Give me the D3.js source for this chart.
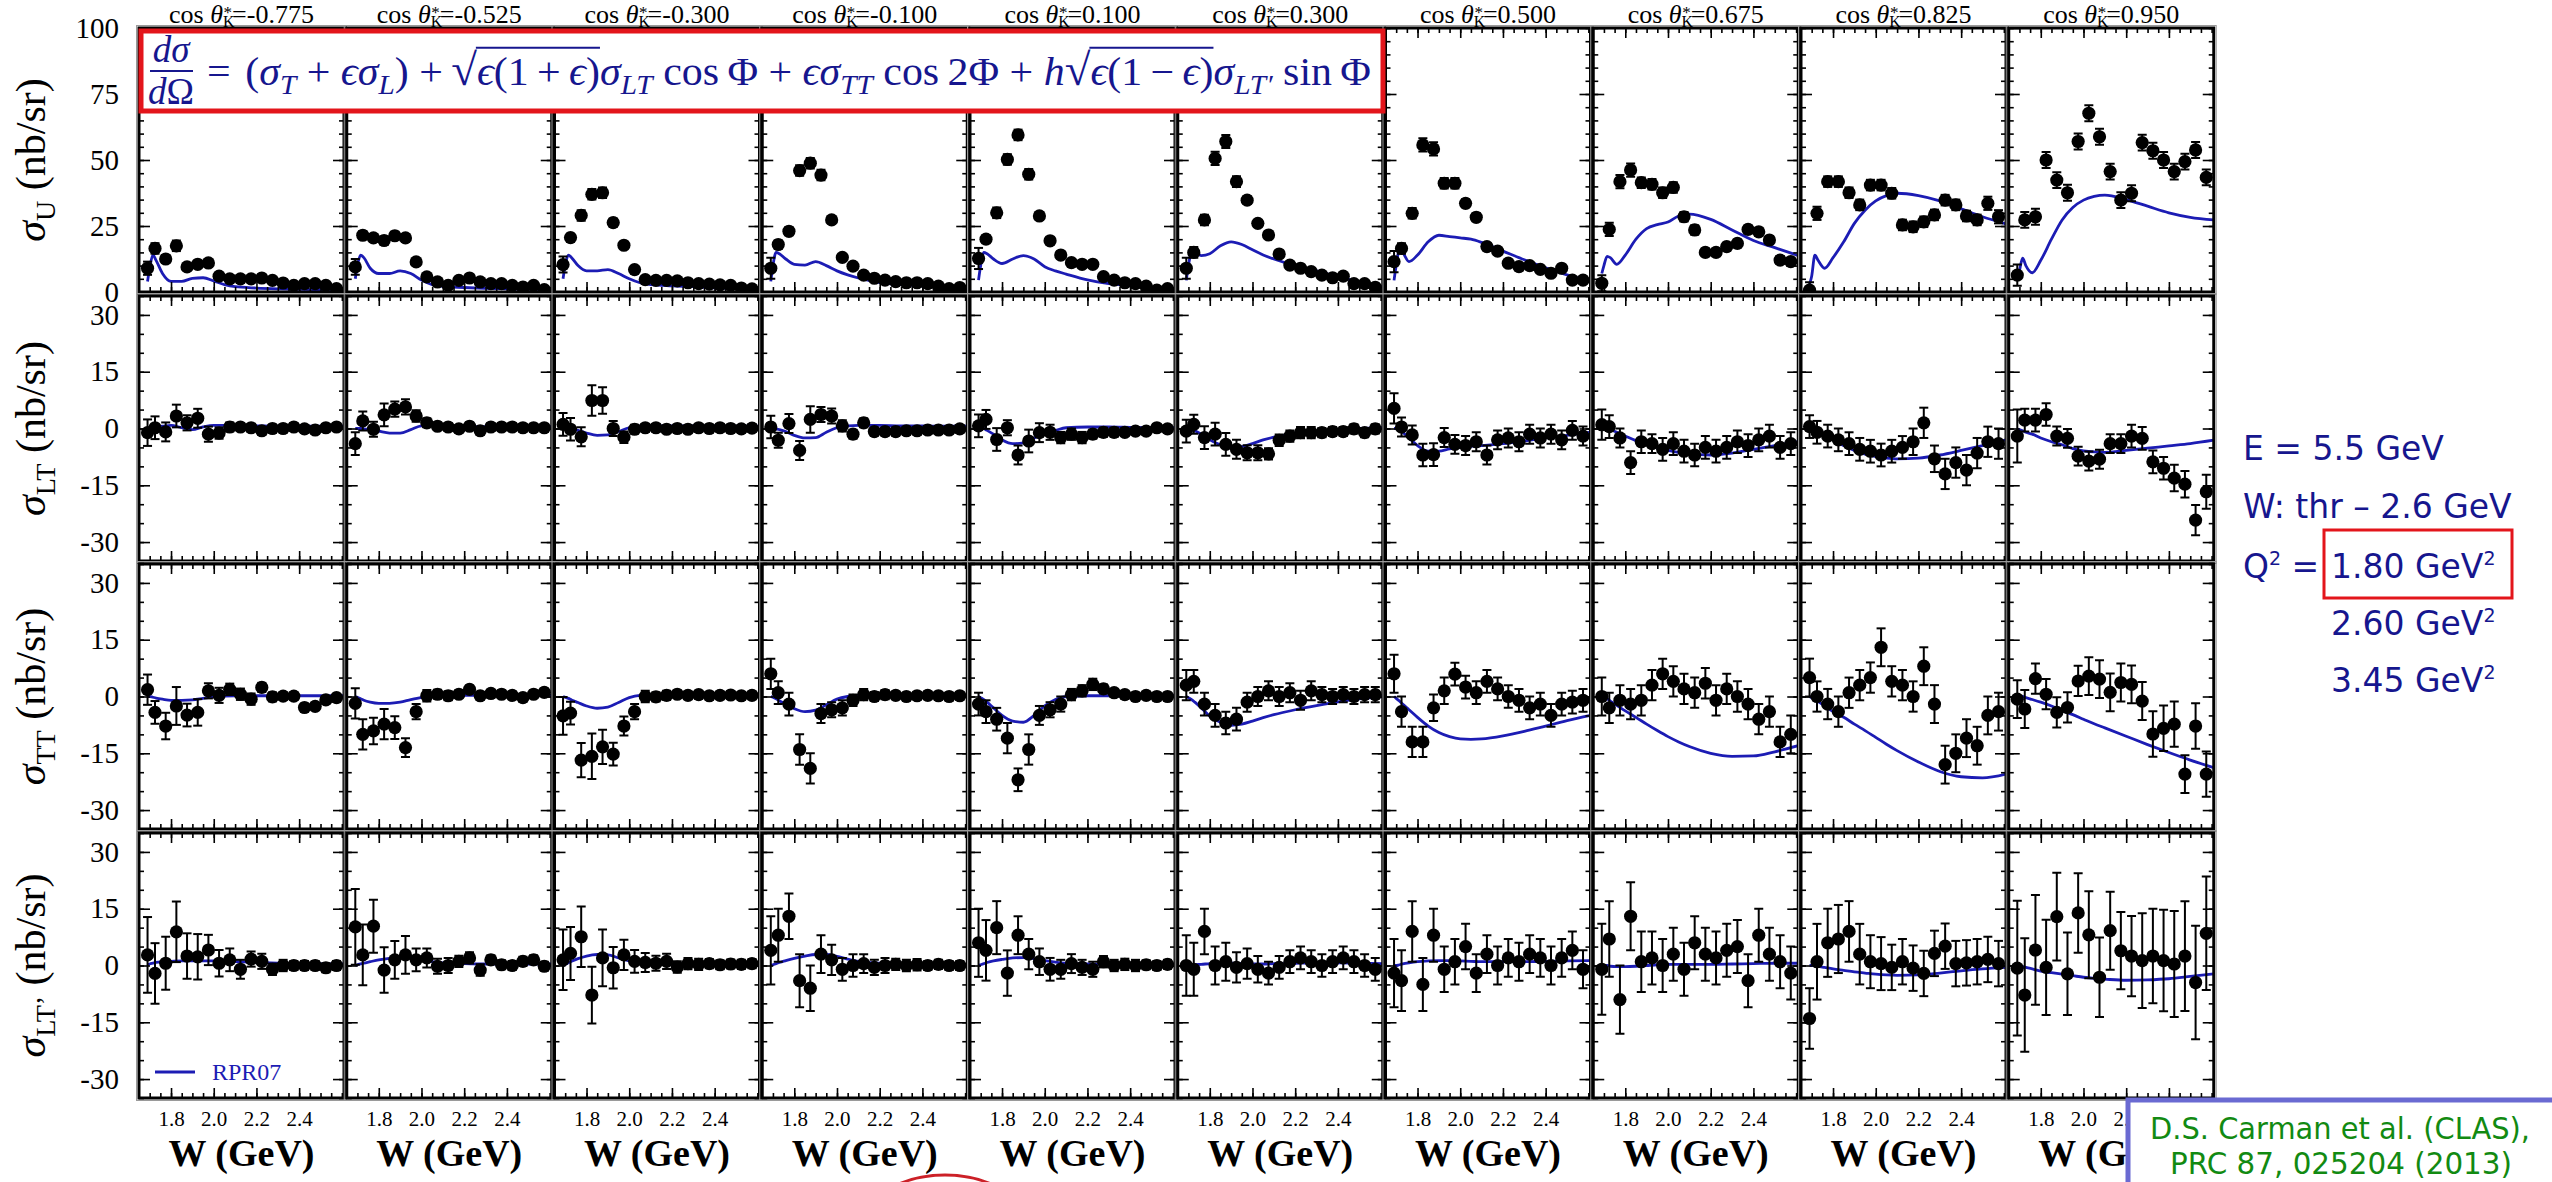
<!DOCTYPE html>
<html><head><meta charset="utf-8">
<script src="https://cdn.jsdelivr.net/npm/d3@7"></script>
<style>body{margin:0;background:#fff;} svg{display:block;}</style>
</head><body>
<svg id="c" width="2552" height="1182"></svg>
<script>
// ---------- data ----------
const cosTheta = ["-0.775","-0.525","-0.300","-0.100","0.100","0.300","0.500","0.675","0.825","0.950"];
const W = [1.69,1.725,1.775,1.825,1.875,1.925,1.975,2.025,2.075,2.125,2.175,2.225,2.275,2.325,2.375,2.425,2.475,2.525,2.575];
const CW = [1.69,1.70,1.715,1.73,1.76,1.80,1.85,1.90,1.95,2.00,2.05,2.10,2.20,2.30,2.40,2.50,2.61];
const xTicks = [1.8,2.0,2.2,2.4];
const yTicksU = [0,25,50,75,100];
const yTicksS = [-30,-15,0,15,30];

const sU_val = [
 [9,16.5,12.5,17.5,9.5,10.5,11,6,5,5,5,5.3,4.4,3.4,2.5,3.2,3.2,2.5,1.3],
 [9.5,21.5,20.5,19.5,21.3,20.5,11.4,5.7,3.8,2.5,4.4,5.3,3.8,3.2,3.2,2.5,1.9,2.5,0.9],
 [10.4,20.6,29,37,37.6,26.3,17.7,8.5,4.7,4.4,4.4,4.2,3.5,3.2,3,2.7,2.5,1.5,1.2],
 [9,18,23,46,48.8,44.3,27.3,13.1,9.8,6.4,5.2,4.5,3.9,3.5,3.5,3.2,2.2,1.3,1.7],
 [12.7,20,30,50.2,59.5,44.6,28.8,19.4,14,11.1,10.5,10.5,5.8,4.5,3.5,3.2,2.2,0.7,1.3],
 [9,15,27.3,50.6,57,41.8,34.8,26,21.6,14.4,10.2,9,7.7,6.4,5.4,6,3.2,3.2,1.8],
 [11.5,16.5,29.8,55.7,54.2,41.2,41.2,33.6,28.3,17.2,15.5,10.9,9.6,10,8.6,7.1,9,4.5,4.5],
 [3.3,23.7,41.8,46.2,41.4,40.8,37.6,39.6,28.5,23.5,15,15,17.2,18.4,23.7,22.8,19.7,12.1,11.5],
 [0.7,29.8,41.8,41.8,37.6,33,40.5,40.5,37.4,25.4,24.7,26.6,29.2,34.8,33,28.8,27.3,33.6,28.5],
 [6.4,27.3,28.5,50,42.4,37.6,57,67.7,58.8,45.6,34.8,37.4,56.6,53.5,50,45.6,49.4,53.8,43.4]
];
const sU_err = [
 [2.5,2,1.5,2,1.2,1,1,0.8,0.7,0.7,0.6,0.6,0.6,0.5,0.5,0.5,0.5,0.5,0.5],
 [3,1.5,1.5,1.5,1.5,1.5,1,0.8,0.6,0.6,0.6,0.6,0.5,0.5,0.5,0.5,0.5,0.5,0.5],
 [3,1.5,2,2,2,1.5,1.2,1,0.7,0.6,0.6,0.6,0.5,0.5,0.5,0.5,0.5,0.5,0.5],
 [4,1.5,1.5,2,2,2,1.2,1,0.8,0.7,0.6,0.6,0.6,0.5,0.5,0.5,0.5,0.5,0.5],
 [4,1.5,2,2,2,2,1.5,1.2,1,0.8,0.7,0.7,0.6,0.6,0.5,0.5,0.5,0.5,0.5],
 [4,2,2,2.5,2.5,2,1.5,1.3,1.2,1,0.8,0.7,0.7,0.6,0.6,0.6,0.5,0.5,0.5],
 [4,2,2,2.5,2.5,2,2,1.5,1.5,1.2,1.2,1,1,1,0.8,0.8,0.8,0.8,0.8],
 [3,2.5,2.5,2.5,2,2,2,2,1.8,1.8,1.5,1.5,1.5,1.5,1.5,1.5,1.5,1.5,1.5],
 [3,2.5,2,2,2,2,2,2,2,2,2,2,2,2,2,2,2,2.5,2.5],
 [4,3,3,3,3,3,3,3,3,3,3,3,3,3,3,3,3,3,3]
];
const sU_fit = [
 [4,9,14,12,7,4,4,5.2,5.4,4.2,2.8,2,1.5,1.2,1,0.9,0.8],
 [5,10,14,13,9,7,7,8,7,4.5,2.8,2.1,1.7,1.4,1.2,1,0.9],
 [5,10,14,13,10,8,8,8.5,7,5,3.5,2.8,2.3,2,1.6,1.3,1],
 [4,10,15,14.5,12.5,10.5,10.2,11.5,10,8,6.5,5.3,3.6,2.8,2.2,1.8,1.4],
 [4.5,10,15,14.5,12.5,10.8,12.5,13.8,12.5,9.6,8,6.8,4.6,3.2,2.4,1.8,1.2],
 [4.4,10,15,15,13.8,14.5,17.5,19,18,16,14,12.5,10,8,5.8,3.8,1.8],
 [4.4,10,16,15,11.5,14,19,21.5,21,20.5,20,18.8,15.5,12.2,9.2,6.5,4.2],
 [7,10,13.5,13,10.5,14,20,24,25.5,26.5,28.8,29.5,27.5,23.5,19.5,16.8,13.8],
 [3,6,14,12,9,13,19,26,31,34.5,36.5,37.4,36.5,34.5,31.5,28.5,25.8],
 [4.4,8,12.8,10,7.3,12,20,27.3,32,34.8,36.2,36.7,35,32.5,30,28.3,27.3]
];

const sLT_val = [
 [-1.1,0.2,-0.9,3.3,1.5,2.7,-1.5,-1.2,0.4,0.4,0.2,-0.6,0,0,0.4,-0.1,-0.4,0.2,0.4],
 [-4,2,-0.2,3.6,5.1,5.7,3.3,1.5,0.6,0.4,-0.1,0.6,-0.6,0.4,0.4,0.4,0.2,0.2,0.2],
 [1.1,-0.2,-2.2,7.4,7.4,0,-2.3,-0.2,0.2,0.2,-0.2,0,-0.2,0.2,0,0.2,0,-0.1,0.1],
 [0.4,-3.1,1.3,-5.8,2.4,3.7,3.3,0.7,-1.5,1.5,-0.8,-0.8,-0.8,-0.6,-0.6,-0.4,-0.4,-0.4,-0.1],
 [0.7,2.4,-2.9,0.2,-7,-3.3,-1.1,-1,-2.4,-1.5,-2.4,-1.5,-1,-1,-1,-0.7,-0.7,0.2,-0.1],
 [-0.7,1.1,-2.4,-1.5,-4.2,-5.5,-6.4,-6.4,-6.7,-3.1,-2,-1.1,-1.1,-1.1,-0.8,-0.8,-0.1,-1.1,-0.1],
 [5.3,0.4,-1.7,-7,-6.9,-2.4,-4.2,-4.5,-3.5,-7,-3,-2.5,-3.5,-1.5,-2.5,-1.5,-3,-0.5,-2],
 [1,0.5,-2.5,-9,-3.5,-4,-5.5,-4,-6,-7,-5,-6,-5,-3.5,-4.5,-3,-2,-5,-4],
 [0.5,-1,-2,-3,-4,-5.5,-6,-7,-6,-5,-3.5,1.5,-8,-12,-9,-11,-6.5,-3.5,-4],
 [-2,2.2,2.2,3.7,-2,-2.6,-7.3,-8.6,-8.1,-4,-4,-2,-2.6,-8.8,-10.5,-13.1,-14.7,-24.2,-16.7]
];
const sLT_err = [
 [3.5,3,2.5,3,2,2.5,2,1.5,1.2,1,1,1,1,1,1,1,1,1,1],
 [3,2.5,2,3,2,2,1.5,1.2,1,1,1,1,1,1,1,1,1,1,1],
 [3,3,2.5,4,3.5,2,1.5,1.2,1,1,1,1,1,1,1,1,1,1,1],
 [3,2,2.5,2.5,3.5,2,2,1.5,1.2,1.2,1,1,1,1,1,1,1,1,1],
 [3,2.5,3,2,2.5,3,2.5,2,1.5,1.5,1.5,1.2,1.2,1.2,1,1,1,1,1],
 [3,2.5,3,3,3,2.5,2,2,1.5,1.5,1.5,1.5,1.5,1.2,1.2,1.2,1.2,1.2,1.2],
 [4,2.5,2.5,3,3,2.5,2.5,2.5,2.5,2.5,2.5,2.5,2.5,2.5,2.5,2.5,2.5,2.5,2.5],
 [4,3,2.5,3,3,2.5,3,3,3,3,3,3,3,3,3,3,3,3,3],
 [3,3,3,3,3,3,3,3,3,3,3.5,4,3.5,4,4,4,4,4,4],
 [7,3,3,3,2.5,2.5,2.5,2.5,2.5,2.5,2.5,3,3,3,3,3.5,3.5,4,4.5]
];
const sLT_fit = [
 [0,0.2,0.4,0.5,0.6,0.8,0.2,-0.3,0.4,0.8,0.8,0.8,0.7,0.6,0.6,0.6,0.6],
 [0,0,0,-0.1,-0.3,-0.7,-1.2,-1.2,-0.3,0.7,0.8,0.6,0.5,0.5,0.5,0.5,0.5],
 [0.5,0.5,0.3,0,-0.5,-1.2,-1.8,-1.7,-0.8,0.2,0.6,0.7,0.7,0.7,0.7,0.6,0.6],
 [0,0,-0.1,-0.3,-0.8,-1.8,-2.5,-2.4,-1,0.2,0.7,0.8,0.8,0.7,0.7,0.6,0.6],
 [0.2,0.2,0,-0.5,-1.5,-3,-4,-3.8,-2.5,-1.3,-0.5,0.2,0.4,0.4,0.3,0.2,0.2],
 [0,0,-0.2,-0.6,-1.5,-3,-4.3,-5,-4.8,-4,-3,-2.3,-1.4,-0.8,-0.3,0,0.2],
 [0,0,-0.3,-1,-2.5,-4.5,-6,-6,-5.4,-5,-4.7,-4.5,-4,-3.3,-2.5,-1.8,-1],
 [0,0,0,-0.3,-1,-2,-3.2,-4.2,-5,-5.8,-6.3,-6.7,-7,-6.5,-5.5,-4.5,-3.5],
 [0,0,-0.3,-0.6,-1.5,-3,-4.5,-5.8,-6.8,-7.4,-7.8,-8,-7.8,-7,-5.8,-4.5,-3],
 [-0.2,-0.3,-0.6,-1,-1.5,-2.5,-3.5,-4.3,-5.3,-5.9,-6.2,-6.3,-5.8,-5.2,-4.6,-4,-3.1]
];

const sTT_val = [
 [1.8,-4.2,-7.8,-2.5,-4.9,-4.2,1.5,0.3,1.9,0.6,-0.7,2.4,-0.1,0.1,0.1,-2.9,-2.6,-0.9,-0.3],
 [-1.8,-10,-9.1,-7.3,-8.2,-13.5,-4,0.2,0.6,0.2,0.6,1.9,0.2,0.8,0.6,0.3,-0.3,0.6,1.1],
 [-5.1,-4.4,-16.8,-15.8,-13.3,-15.2,-7.8,-4,0,-0.1,0.3,0.6,0.3,0.5,0.2,0.3,0.4,0.2,0.3],
 [6,1,-2,-14,-19,-4.5,-3.5,-3,-1,0.5,0,0.5,0.3,0,0.2,0.3,0.2,0,0.2],
 [-2,-4,-6,-11,-22,-14,-5,-3.5,-2,0.5,1.5,3.2,2,1,0.5,0,0.3,0,0],
 [3,4,-2,-5,-7,-6,-1.5,0,1.5,0,1,-1,1.5,0.5,0,0.5,0,0.5,0.5],
 [6,-4,-12,-12,-3,1.5,5.9,2.5,1,4,2,0,-1,-3,-2,-5,-2,-1.5,-1],
 [0,-3,-1,-2,-1,3,6,4,2,1,3.5,-1,2,0,-2,-6,-4,-12,-10],
 [5,0,-2,-4,1,3,5,13,4,3,0,8,-2,-18,-15,-11,-13,-5,-4],
 [-0.7,-3.3,4.7,0.6,-4.2,-2.9,4.1,5.4,4.6,1.1,3.7,3.2,-1.2,-9.9,-8.4,-7.3,-20.5,-7.8,-20.5]
];
const sTT_err = [
 [4,3,3.5,5,3,3.5,2,2,1.5,1.5,1.5,1.2,1.2,1,1,1,1,1,1],
 [4,4,3.5,4,3,2.5,2,1.5,1.2,1.2,1,1,1,1,1,1,1,1,1],
 [5,3,4.5,6,4.5,3,2.5,2,1.5,1.2,1.2,1,1,1,1,1,1,1,1],
 [4,3,3,4,4,2.5,2,2,1.5,1.5,1.2,1.2,1,1,1,1,1,1,1],
 [3,3,3,4,3,4,2.5,2,2,1.5,1.5,1.5,1.2,1,1,1,1,1,1],
 [4,3,3,3,3,3,2.5,2.5,2.5,2.5,2.5,2.5,2.5,2,2,2,2,2,2],
 [5,4,4,4,3.5,3.5,3,3,3,3,3,3,3,3,3,3,3,3,3],
 [5,4,4,4,4,4,4,4,4,4,4,4,4,4,4,4,4,4,5],
 [5,4,4,4,4,4,4,5,4,4,4,5,5,5,5,5,5,5,5],
 [5,5,4,4,4,4,4,5,5,5,5,5,5,6,6,6,5,6,6]
];
const sTT_fit = [
 [0,0,-0.2,-0.4,-0.7,-1,-1,-0.9,-0.5,-0.1,0.1,0.2,0.2,0.2,0.2,0.2,0.2],
 [0,-0.2,-0.6,-1,-1.5,-1.8,-1.8,-1.5,-0.8,-0.2,0.2,0.3,0.3,0.3,0.3,0.3,0.3],
 [0,-0.2,-0.5,-0.9,-1.6,-2.5,-3.1,-2.8,-1.6,-0.3,0.3,0.4,0.4,0.4,0.4,0.4,0.4],
 [0,-0.2,-0.6,-1.1,-2,-3.2,-4,-3.6,-2.2,-0.7,0,0.3,0.3,0.3,0.3,0.3,0.3],
 [0,-0.3,-0.8,-1.5,-3,-5,-6.5,-6.8,-5,-2.5,-0.8,0,0.2,0.2,0.2,0.2,0.2],
 [0,-0.3,-0.8,-1.5,-3,-5.2,-6.8,-7.6,-7.3,-6.5,-5.6,-4.8,-3.5,-2.4,-1.4,-0.6,0],
 [0,-0.5,-1.2,-2,-3.5,-5.5,-7.8,-9.5,-10.6,-11.2,-11.3,-11.2,-10.4,-9.2,-7.8,-6.4,-5],
 [0,-0.2,-0.6,-1.2,-2.3,-3.8,-5.5,-7.3,-9,-10.6,-12,-13.2,-15,-15.8,-15.7,-14.6,-13],
 [0,-0.3,-0.7,-1.3,-2.5,-4,-5.5,-7.3,-9,-10.8,-12.6,-14.3,-17.3,-19.8,-21.2,-21.5,-20.5],
 [0,0,0,-0.3,-0.8,-1.5,-2.5,-3.7,-4.8,-6,-7.2,-8.3,-10.5,-12.7,-14.8,-16.8,-18.8]
];

const sLTp_val = [
 [2.8,-2.1,0.6,8.9,2.5,2.3,4.1,0.6,1.5,-1,1.7,1.1,-1,0,0,0,0,-0.6,0],
 [10.2,2.8,10.4,-1.2,1.5,2.8,1.5,2,-0.2,0,1.1,2,-1.2,1.5,0.2,0,1.1,1.5,-0.2],
 [1.5,3.2,7.6,-7.8,2,-0.6,2.8,1.1,0.8,0.6,1.1,-0.4,0.5,0.3,0.5,0.2,0.4,0.3,0.5],
 [4,8,13,-4,-6,3,1.5,-1,0,0.5,-0.5,0,0.3,0,0.2,0,0.3,0,0],
 [6,4,10,-2,8,3,1,-1,-1,0.5,-0.5,-1,1,0,0.3,0,0.2,0,0.3],
 [0,-1,9,0,1,-0.5,0.5,-1,-2,-0.5,1,2,1,0,1,2,1,0,-1],
 [-2,-4,9,-5,8,-1,1,5,-2,3,0,2,1,3,2,0,2,4,-1],
 [-1,7,-9,13,1,2,0,3,-1,6,3,2,4,5,-4,8,3,1,-2],
 [-14,1,6,7,9,3,1,0.5,-0.5,1,-0.7,-2.1,3.2,5.1,0.5,0.7,1,1.6,0.5],
 [-0.7,-7.8,4.1,-0.5,12.9,-2.2,13.9,8.1,-3.1,9.2,3.9,2.5,1.3,2.5,1.3,0.4,2.5,-4.5,8.5]
];
const sLTp_err = [
 [10,8,7,8,6,6,4,3.5,3,2.5,2,2,1.5,1.5,1.2,1.2,1.2,1.2,1.2],
 [10,8,7,6,5,5,3,2.5,2,2,1.5,1.5,1.5,1.2,1.2,1.2,1.2,1.2,1.2],
 [8,7,8,7.5,7.5,5.5,4,3,2.5,2,2,1.5,1.5,1.5,1.2,1.2,1.2,1.2,1.2],
 [9,7,6,7,6,5,4,3,3,2.5,2,2,1.5,1.5,1.5,1.2,1.2,1.2,1.2],
 [9,8,7,6,5,4,3.5,3,2.5,2.5,2,2,1.5,1.5,1.5,1.5,1.2,1.2,1.2],
 [8,7,6,5,5,4,4,3.5,3,3,3,3,3,3,3,3,3,3,3],
 [9,8,8,7,7,6,6,6,5,5,5,5,5,5,5,5,5,5,5],
 [12,10,9,9,8,7,7,7,7,7,7,7,7,7,7,7,7,7,7],
 [8,10,9,9,8,8,7,7,6,6,6,6,6,6,6,6,6,6,6],
 [17.8,15,14.5,12.6,11.6,10.9,10.5,11.5,10.5,10.3,10.2,10.6,12.5,12.5,13.4,14,14.5,15,15]
];
const sLTp_fit = [
 [0.2,0.4,0.6,0.8,1,1.1,1.2,1.2,1.2,1.2,1.1,1,0.8,0.6,0.5,0.4,0.4],
 [0,0.2,0.4,0.6,1,1.5,1.9,2.1,2,1.5,1,0.7,0.5,0.4,0.4,0.4,0.4],
 [0,0.3,0.7,1.1,1.8,2.5,2.9,2.8,2,1.2,0.7,0.5,0.4,0.4,0.4,0.4,0.4],
 [0,0.2,0.5,0.8,1.3,1.9,2.5,2.9,2.9,2.4,1.7,1.1,0.6,0.4,0.3,0.3,0.3],
 [0,0.2,0.5,0.8,1.2,1.6,2,2.1,1.8,1.3,0.9,0.6,0.4,0.3,0.3,0.3,0.3],
 [0,0,0.1,0.2,0.3,0.5,0.6,0.6,0.5,0.4,0.4,0.5,0.6,0.7,0.7,0.6,0.5],
 [0,0,0.2,0.4,0.7,1,1.2,1.3,1.3,1.2,1.1,1,1,1,1.1,1.2,1.3],
 [0,0,0,-0.2,-0.3,-0.3,-0.2,0,0.2,0.3,0.3,0.3,0.3,0.4,0.5,0.6,0.6],
 [0,0,0,-0.2,-0.5,-0.9,-1.3,-1.7,-2,-2.3,-2.5,-2.6,-2.5,-2,-1.4,-0.9,-0.5],
 [0,-0.1,-0.3,-0.5,-0.9,-1.5,-1.9,-2.3,-2.7,-3.1,-3.4,-3.6,-3.9,-3.8,-3.5,-2.9,-2.2]
];

const rowSub = ["U","LT","TT","LT\u2019"];
const rightLines = ["E = 5.5 GeV","W: thr \u2013 2.6 GeV"];
const q2Values = ["1.80","2.60","3.45"];
const citation = ["D.S. Carman et al. (CLAS),","PRC 87, 025204 (2013)"];

// ---------- drawing ----------
const serif = "'Liberation Serif','Times New Roman',serif";
const sans = "'DejaVu Sans',sans-serif";
const navy = "#16168e";
const curveBlue = "#1c1cb4";
const svg = d3.select("#c");
svg.append("rect").attr("width",2552).attr("height",1182).attr("fill","#fff");

const X0 = 139, PITCH = 207.75, PW = 205;
const rowTop = [28, 296, 564, 833];
const rowH = [264, 265, 265, 265];
const rowDom = [[0,100],[-35,35],[-35,35],[-35,35]];
const rowTicks = [yTicksU, yTicksS, yTicksS, yTicksS];
const rowVals = [sU_val, sLT_val, sTT_val, sLTp_val];
const rowErrs = [sU_err, sLT_err, sTT_err, sLTp_err];
const rowFits = [sU_fit, sLT_fit, sTT_fit, sLTp_fit];
const defs = svg.append("defs");

for (let r = 0; r < 4; r++) {
  const minor = r === 0 ? d3.range(0, 101, 5) : d3.range(-35, 36, 5);
  for (let c = 0; c < 10; c++) {
    const left = X0 + c * PITCH, top = rowTop[r], h = rowH[r];
    const x = d3.scaleLinear().domain([1.65, 2.61]).range([left, left + PW]);
    const y = d3.scaleLinear().domain(rowDom[r]).range([top + h, top]);
    const id = `clip${r}_${c}`;
    defs.append("clipPath").attr("id", id).append("rect")
      .attr("x", left).attr("y", top).attr("width", PW).attr("height", h);
    const g = svg.append("g");
    const gc = g.append("g").attr("clip-path", `url(#${id})`);

    const fit = CW.map((w, i) => [w, rowFits[r][c][i]]);
    gc.append("path").datum(fit)
      .attr("d", d3.line().x(d => x(d[0])).y(d => y(d[1])).curve(d3.curveMonotoneX))
      .attr("fill", "none").attr("stroke", curveBlue).attr("stroke-width", 2.8);

    const pts = W.map((w, i) => ({w, v: rowVals[r][c][i], e: rowErrs[r][c][i]}));
    const eb = gc.append("g").attr("stroke", "#000").attr("stroke-width", 2);
    pts.forEach(p => {
      const x0 = x(p.w), y1 = y(p.v - p.e), y2 = y(p.v + p.e);
      eb.append("line").attr("x1", x0).attr("x2", x0).attr("y1", y1).attr("y2", y2);
      eb.append("line").attr("x1", x0 - 4.5).attr("x2", x0 + 4.5).attr("y1", y1).attr("y2", y1);
      eb.append("line").attr("x1", x0 - 4.5).attr("x2", x0 + 4.5).attr("y1", y2).attr("y2", y2);
    });
    g.append("g").selectAll("circle").data(pts).join("circle")
      .attr("cx", d => x(d.w)).attr("cy", d => y(d.v)).attr("r", 6.6).attr("fill", "#000");

    const fmtY = c === 0 ? (d => String(d)) : (() => "");
    const styleAxis = sel => {
      sel.select(".domain").remove();
      sel.selectAll(".tick line").attr("stroke", "#000").attr("stroke-width", 1.6);
      sel.attr("font-family", serif).attr("font-size", 29).selectAll("text").attr("fill", "#000");
    };
    g.append("g").attr("transform", `translate(${left},0)`)
      .call(d3.axisLeft(y).tickValues(rowTicks[r]).tickSize(-11).tickPadding(20).tickFormat(fmtY)).call(styleAxis);
    g.append("g").attr("transform", `translate(${left},0)`)
      .call(d3.axisLeft(y).tickValues(minor).tickSize(-5).tickFormat("")).call(styleAxis);
    g.append("g").attr("transform", `translate(${left + PW},0)`)
      .call(d3.axisRight(y).tickValues(rowTicks[r]).tickSize(-11).tickFormat("")).call(styleAxis);
    g.append("g").attr("transform", `translate(${left + PW},0)`)
      .call(d3.axisRight(y).tickValues(minor).tickSize(-5).tickFormat("")).call(styleAxis);
    const xMinor = d3.range(34, 53).map(i => +(i * 0.05).toFixed(2));
    g.append("g").attr("transform", `translate(0,${top})`)
      .call(d3.axisTop(x).tickValues(xTicks).tickSize(-10).tickFormat("")).call(styleAxis);
    g.append("g").attr("transform", `translate(0,${top})`)
      .call(d3.axisTop(x).tickValues(xMinor).tickSize(-5).tickFormat("")).call(styleAxis);
    const bx = g.append("g").attr("transform", `translate(0,${top + h})`)
      .call(d3.axisBottom(x).tickValues(xTicks).tickSize(-10).tickPadding(13)
        .tickFormat(r === 3 ? d3.format(".1f") : () => "")).call(styleAxis);
    bx.attr("font-size", 21);
    g.append("g").attr("transform", `translate(0,${top + h})`)
      .call(d3.axisBottom(x).tickValues(xMinor).tickSize(-5).tickFormat("")).call(styleAxis);

    g.append("rect").attr("x", left).attr("y", top).attr("width", PW).attr("height", h)
      .attr("fill", "none").attr("stroke", "#000").attr("stroke-width", 3);
    g.append("rect").attr("x", left - 2.5).attr("y", top - 2.5).attr("width", PW + 5).attr("height", h + 5)
      .attr("fill", "none").attr("stroke", "#9a9a9a").attr("stroke-width", 1);

    if (r === 3) {
      svg.append("text").attr("x", left + PW / 2).attr("y", 1166).attr("text-anchor", "middle")
        .attr("font-family", serif).attr("font-size", 38).attr("font-weight", "bold").text("W (GeV)");
    }
    if (r === 0) {
      const t = svg.append("text").attr("x", left + PW / 2).attr("y", 23).attr("text-anchor", "middle")
        .attr("font-family", serif).attr("font-size", 26);
      t.append("tspan").text("cos ");
      t.append("tspan").attr("font-style", "italic").text("\u03b8");
      t.append("tspan").attr("font-size", 16).attr("dy", 4).text("K");
      t.append("tspan").attr("font-size", 17).attr("dx", -11).attr("dy", -9).text("*");
      t.append("tspan").attr("dy", 5).text("=" + cosTheta[c]);
    }
  }
  const cy = rowTop[r] + rowH[r] / 2;
  const tt = svg.append("text").attr("transform", `translate(45,${cy}) rotate(-90)`)
    .attr("text-anchor", "middle").attr("font-family", serif).attr("font-size", 42);
  tt.append("tspan").attr("font-style", "italic").text("\u03c3");
  tt.append("tspan").attr("font-size", 28).attr("dy", 10).text(rowSub[r]);
  tt.append("tspan").attr("dy", -10).text(" (nb/sr)");
}

// legend
svg.append("line").attr("x1", 155).attr("x2", 195).attr("y1", 1072).attr("y2", 1072)
  .attr("stroke", curveBlue).attr("stroke-width", 2.8);
svg.append("text").attr("x", 212).attr("y", 1080).attr("font-family", serif).attr("font-size", 24)
  .attr("fill", curveBlue).text("RPR07");

// formula box
svg.append("rect").attr("x", 141).attr("y", 31).attr("width", 1242).attr("height", 80)
  .attr("fill", "#fff").attr("stroke", "#e3151b").attr("stroke-width", 5);
const F = 40;
const fr = svg.append("g").attr("font-family", serif).attr("font-size", 37).attr("fill", navy);
fr.append("text").attr("x", 171).attr("y", 62).attr("text-anchor", "middle").attr("font-style", "italic").text("d\u03c3");
const fd = fr.append("text").attr("x", 171).attr("y", 104).attr("text-anchor", "middle");
fd.append("tspan").attr("font-style", "italic").text("d");
fd.append("tspan").text("\u03a9");
svg.append("line").attr("x1", 150).attr("x2", 193).attr("y1", 71).attr("y2", 71).attr("stroke", navy).attr("stroke-width", 2);

const fG = svg.append("g");
let cx = 0;
function put(t, o = {}) {
  const size = o.size || F;
  const el = fG.append("text").attr("x", cx).attr("y", o.dy || 0)
    .attr("font-family", serif).attr("font-size", size)
    .attr("font-style", o.it ? "italic" : "normal").attr("fill", navy).text(t);
  const w = el.node().getComputedTextLength();
  const s = cx; cx += w; return s;
}
const gap = n => { cx += n; };
const sub = t => put(t, {it: true, size: F * 0.7, dy: F * 0.22});
const over = [];
function sqrtGroup(inner) {
  put("\u221a", {size: F * 1.12});
  const s = cx; inner(); over.push([s, cx]);
}
put("="); gap(14); put("("); put("\u03c3", {it: true}); sub("T"); gap(10); put("+"); gap(10);
put("\u03f5", {it: true}); put("\u03c3", {it: true}); sub("L"); put(")"); gap(10); put("+"); gap(8);
sqrtGroup(() => { put("\u03f5", {it: true}); put("(1"); gap(8); put("+"); gap(8); put("\u03f5", {it: true}); put(")"); });
put("\u03c3", {it: true}); sub("LT"); gap(10); put("cos"); gap(8); put("\u03a6"); gap(10); put("+"); gap(10);
put("\u03f5", {it: true}); put("\u03c3", {it: true}); sub("TT"); gap(10); put("cos"); gap(8); put("2\u03a6"); gap(10);
put("+"); gap(10); put("h", {it: true});
sqrtGroup(() => { put("\u03f5", {it: true}); put("(1"); gap(8); put("\u2212"); gap(8); put("\u03f5", {it: true}); put(")"); });
put("\u03c3", {it: true}); sub("LT\u2032"); gap(10); put("sin"); gap(8); put("\u03a6");
over.forEach(([a, b]) => fG.append("line").attr("x1", a - 1).attr("x2", b).attr("y1", -F * 0.93).attr("y2", -F * 0.93)
  .attr("stroke", navy).attr("stroke-width", 2));
const sx = (1371 - 207) / cx;
fG.attr("transform", `translate(207,85) scale(${sx},1)`);

// right-side annotation
const rt = svg.append("g").attr("font-family", sans).attr("fill", navy).attr("font-size", 33);
rt.append("text").attr("x", 2243).attr("y", 460).text(rightLines[0]);
rt.append("text").attr("x", 2243).attr("y", 518).text(rightLines[1]);
const q = rt.append("text").attr("x", 2243).attr("y", 578);
q.append("tspan").text("Q");
q.append("tspan").attr("font-size", 19).attr("dy", -13).text("2");
q.append("tspan").attr("dy", 13).text(" =");
q2Values.forEach((v, i) => {
  const t = rt.append("text").attr("x", 2331).attr("y", 578 + i * 57);
  t.append("tspan").text(v + " GeV");
  t.append("tspan").attr("font-size", 19).attr("dy", -13).text("2");
});
svg.append("rect").attr("x", 2324).attr("y", 530).attr("width", 188).attr("height", 68)
  .attr("fill", "none").attr("stroke", "#e3151b").attr("stroke-width", 3);

// red oval (partial, at the bottom edge)
svg.append("ellipse").attr("cx", 945).attr("cy", 1225).attr("rx", 80).attr("ry", 50)
  .attr("fill", "none").attr("stroke", "#cc2027").attr("stroke-width", 3);

// citation box
svg.append("rect").attr("x", 2128).attr("y", 1100).attr("width", 440).attr("height", 100)
  .attr("fill", "#fff").attr("stroke", "#6a6ad2").attr("stroke-width", 5);
const ct = svg.append("g").attr("font-family", sans).attr("fill", "#128a12").attr("font-size", 30);
ct.append("text").attr("x", 2150).attr("y", 1139).attr("textLength", 380).attr("lengthAdjust", "spacingAndGlyphs").text(citation[0]);
ct.append("text").attr("x", 2170).attr("y", 1174).attr("textLength", 342).attr("lengthAdjust", "spacingAndGlyphs").text(citation[1]);
</script>
</body></html>
